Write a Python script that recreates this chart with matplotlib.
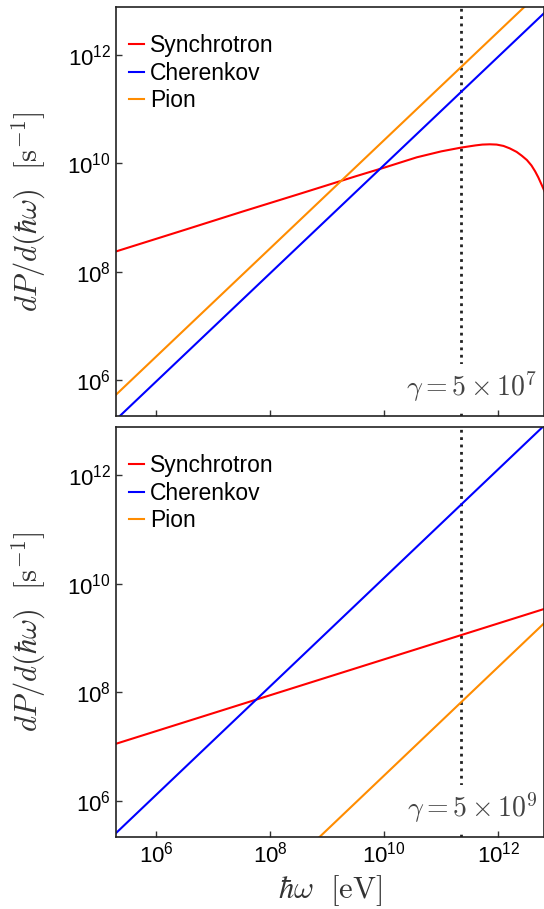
import numpy as np
import matplotlib
matplotlib.use("Agg")
import matplotlib.pyplot as plt

plt.rcParams["font.family"] = ["Liberation Sans", "DejaVu Sans"]
plt.rcParams["mathtext.fontset"] = "cm"

# values, as log10 exponents
# top panel, gamma = 5e7
sync_top_lx = [5.20, 6.5, 7.52, 8.5, 9.5, 10.0, 10.57, 11.0, 11.35, 11.6, 11.72, 11.85,
               11.97, 12.09, 12.2, 12.32, 12.41, 12.50, 12.58, 12.645, 12.70, 12.76,
               12.81, 12.85]
sync_top_ly = [8.34, 8.77, 9.11, 9.43, 9.76, 9.92, 10.11, 10.22, 10.29, 10.33, 10.345, 10.35,
               10.345, 10.32, 10.275, 10.21, 10.14, 10.06, 9.96, 9.85, 9.74, 9.60,
               9.48, 9.38]
cher_top_lx = [5.2, 13.0]
cher_top_ly = [5.17, 12.97]
pion_top_lx = [5.2, 13.0]
pion_top_ly = [5.63, 13.43]

# bottom panel, gamma = 5e9
sync_bot_lx = [5.2, 13.0]
sync_bot_ly = [7.02, 9.60]
cher_bot_lx = [5.2, 13.0]
cher_bot_ly = [5.31, 13.11]
pion_bot_lx = [5.2, 13.0]
pion_bot_ly = [1.67, 9.47]

gamma_labels = [r"$\gamma = 5\times10^{7}$", r"$\gamma = 5\times10^{9}$"]
omega_mark = 10 ** 11.35

xlim = (10 ** 5.297, 10 ** 12.80)
ylim = (10 ** 5.34, 10 ** 12.88)

panels = [
    (sync_top_lx, sync_top_ly, cher_top_lx, cher_top_ly, pion_top_lx, pion_top_ly),
    (sync_bot_lx, sync_bot_ly, cher_bot_lx, cher_bot_ly, pion_bot_lx, pion_bot_ly),
]

fig = plt.figure(figsize=(5.44, 9.09), dpi=100)
ax_top = fig.add_axes([0.2132, 0.5427, 1 - 0.2132, 0.4493])
ax_bot = fig.add_axes([0.2132, 0.0795, 1 - 0.2132, 0.4504])

for ax, data, glab in zip([ax_top, ax_bot], panels, gamma_labels):
    slx, sly, clx, cly, plx, ply = data
    ax.plot(10 ** np.array(slx), 10 ** np.array(sly), color="red", lw=1.5, label="Synchrotron")
    ax.plot(10 ** np.array(clx), 10 ** np.array(cly), color="blue", lw=1.5, label="Cherenkov")
    ax.plot(10 ** np.array(plx), 10 ** np.array(ply), color="darkorange", lw=1.5, label="Pion")
    ax.axvline(omega_mark, color="#222222", ls=":", lw=2, zorder=1)
    ax.set_xscale("log")
    ax.set_yscale("log")
    ax.set_xlim(*xlim)
    ax.set_ylim(*ylim)
    ax.set_xticks([1e6, 1e8, 1e10, 1e12])
    ax.set_yticks([1e6, 1e8, 1e10, 1e12])
    ax.minorticks_off()
    ax.tick_params(direction="in", length=4, width=1, labelsize=16, color="#333333")
    for sp in ax.spines.values():
        sp.set_linewidth(1.2)
        sp.set_color("#222222")
    ax.set_ylabel(r"$dP/d(\hbar\omega)\ \ [\mathrm{s}^{-1}]$", fontsize=22,
                  color="#333333")
    ax.yaxis.set_label_coords(-0.158, 0.5)
    ax.text(0.985, 0.07, glab, transform=ax.transAxes, ha="right", va="center",
            fontsize=20, color="#444444", zorder=5,
            bbox=dict(facecolor="white", edgecolor="none", pad=4))
    ax.legend(loc="upper left", frameon=False, fontsize=16.5, handlelength=0.65,
              handletextpad=0.25, labelspacing=0.2, bbox_to_anchor=(-0.017, 0.985))

ax_top.tick_params(labelbottom=False)
ax_bot.set_xlabel(r"$\hbar\omega\ \ [\mathrm{eV}]$", fontsize=22, color="#333333")

fig.savefig("out.png", dpi=100)
